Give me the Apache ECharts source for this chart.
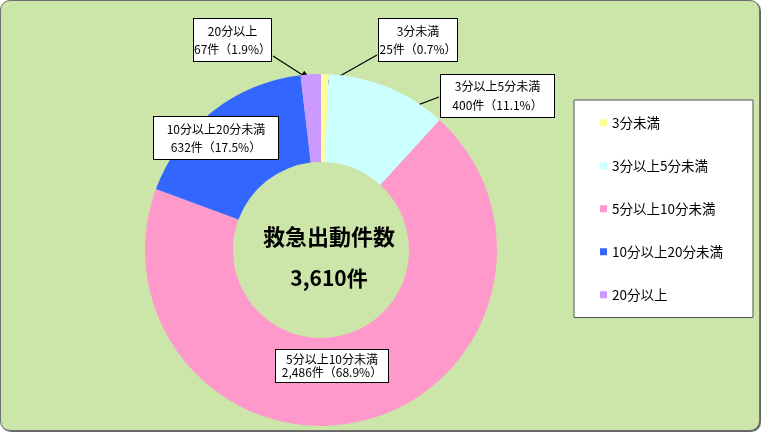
<!DOCTYPE html>
<html>
<head>
<meta charset="utf-8">
<script src="https://cdn.jsdelivr.net/npm/echarts@6/dist/echarts.min.js"></script>
<style>
html,body{margin:0;padding:0;background:#fff;}
#wrap{position:absolute;left:0;top:0;width:758px;height:429px;border:1px solid #6f6f6f;border-radius:10px;background:#CCE6AA;box-shadow:1px 1px 1px #555;overflow:hidden;}
#chart{width:758px;height:429px;}
</style>
</head>
<body>
<div id="wrap"><div id="chart"></div></div>
<script>
// ---- data ----
const categories = ['3分未満', '3分以上5分未満', '5分以上10分未満', '10分以上20分未満', '20分以上'];
const counts = [25, 400, 2486, 632, 67];
const centerTitle = '救急出動件数';
const centerTotal = '3,610件';

// ---- style / layout ----
const colors = ['#FFFF99', '#CCFFFF', '#FF99CC', '#3366FF', '#CC99FF'];
const labelBoxes = [
  {x: 377, y: 18, w: 80, h: 43, lh: 18},
  {x: 439, y: 74, w: 115, h: 44, lh: 19},
  {x: 274, y: 349, w: 114, h: 33, lh: 13},
  {x: 152, y: 116, w: 126, h: 43, lh: 18},
  {x: 192, y: 18, w: 79, h: 43, lh: 18}
];
// arrows: label anchor (relative to label box) and tip radius fraction
const arrows = [
  {idx: 0, side: 'left', dy: 36, rf: 0.94},
  {idx: 1, side: 'left', dy: 22, rf: 0.79},
  {idx: 4, side: 'right', dy: 37, rf: 0.965}
];

const FONT = '"Noto Sans CJK JP", "Noto Sans", sans-serif';
const chart = echarts.init(document.getElementById('chart'));
const total = counts.reduce((s, v) => s + v, 0);

const seriesData = categories.map((c, i) => ({
  name: c,
  value: counts[i],
  itemStyle: {color: colors[i]},
  label: {
    width: labelBoxes[i].w - 2,
    lineHeight: labelBoxes[i].lh,
    padding: [Math.round((labelBoxes[i].h - 2 - 2 * labelBoxes[i].lh) / 2), 0]
  }
}));

chart.setOption({
  animation: false,
  backgroundColor: 'transparent',
  legend: {
    orient: 'vertical',
    left: 573,
    top: 99,
    padding: [16, 30, 16, 26],
    itemGap: 29.5,
    itemWidth: 7,
    itemHeight: 7,
    icon: 'rect',
    backgroundColor: '#fff',
    borderColor: '#555',
    borderWidth: 1,
    borderRadius: 0,
    textStyle: {fontFamily: FONT, fontSize: 13.5, color: '#000'},
    data: categories
  },
  series: [{
    type: 'pie',
    center: [320, 249],
    radius: [88, 176],
    startAngle: 90,
    clockwise: true,
    avoidLabelOverlap: false,
    data: seriesData,
    label: {
      show: true,
      position: 'outside',
      formatter: p => p.name + '\n' + p.value.toLocaleString('en-US') + '件（' + (p.value / total * 100).toFixed(1) + '%）',
      fontFamily: FONT,
      fontSize: 12,
      color: '#000',
      backgroundColor: '#fff',
      borderColor: '#000',
      borderWidth: 1,
      align: 'center',
      overflow: 'none'
    },
    labelLine: {show: false},
    labelLayout: function (params) {
      const b = labelBoxes[params.dataIndex];
      return {x: b.x + b.w / 2, y: b.y, align: 'center', verticalAlign: 'top', hideOverlap: false};
    },
    emphasis: {disabled: true}
  }]
});

// arrows & centre text derived from the pie layout
const data = chart.getModel().getSeriesByIndex(0).getData();
const graphics = [];
let cx = 320, cy = 249;
arrows.forEach(a => {
  const L = data.getItemLayout(a.idx);
  cx = L.cx; cy = L.cy;
  const mid = (L.startAngle + L.endAngle) / 2;
  const tx = L.cx + L.r * a.rf * Math.cos(mid);
  const ty = L.cy + L.r * a.rf * Math.sin(mid);
  const b = labelBoxes[a.idx];
  const sx = a.side === 'left' ? b.x - 1 : b.x + b.w + 1;
  const sy = b.y + a.dy;
  const ang = Math.atan2(ty - sy, tx - sx);
  const len = 11, hw = 4.5;
  const bx = tx - len * Math.cos(ang), by = ty - len * Math.sin(ang);
  const px = -Math.sin(ang) * hw, py = Math.cos(ang) * hw;
  graphics.push({
    type: 'line', silent: true,
    shape: {x1: sx, y1: sy, x2: bx, y2: by},
    style: {stroke: '#000', lineWidth: 1.2}
  });
  graphics.push({
    type: 'polygon', silent: true,
    shape: {points: [[tx, ty], [bx + px, by + py], [bx - px, by - py]]},
    style: {fill: '#000'}
  });
});
graphics.push({
  type: 'text', silent: true, x: cx + 8, y: cy - 13,
  style: {text: centerTitle, fontFamily: FONT, fontSize: 22, fontWeight: 'bold', fill: '#000', align: 'center', verticalAlign: 'middle'}
});
graphics.push({
  type: 'text', silent: true, x: cx + 8, y: cy + 28,
  style: {text: centerTotal, fontFamily: FONT, fontSize: 21, fontWeight: 'bold', fill: '#000', align: 'center', verticalAlign: 'middle'}
});
chart.setOption({graphic: graphics});
</script>
</body>
</html>
